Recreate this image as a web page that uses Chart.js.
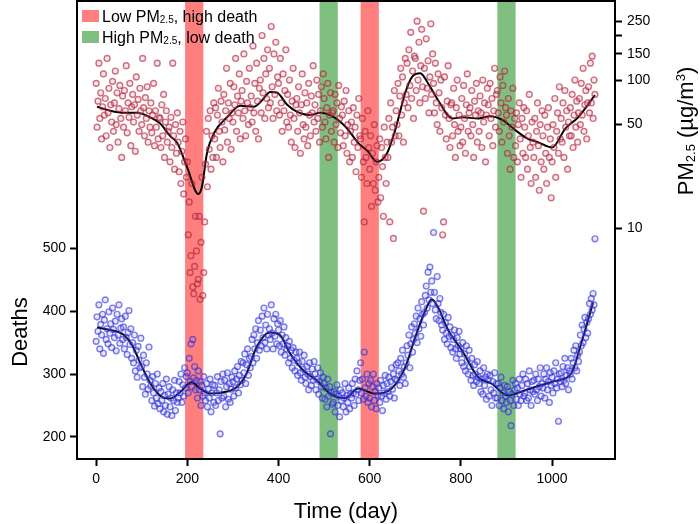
<!DOCTYPE html>
<html>
<head>
<meta charset="utf-8">
<script src="https://cdn.jsdelivr.net/npm/chart.js@4.4.0/dist/chart.umd.min.js"></script>
<style>
  body { margin: 0; background: #fff; }
  canvas { display: block; }
</style>
</head>
<body>
<canvas id="chart" width="700" height="524"></canvas>
<script>
const dayStep = 2;

const deaths = [
  352,391,368,410,340,379,362,395,333,386, 418,355,372,348,399,365,380,342,405,371,
  358,384,337,395,362,410,349,373,388,355, 375,340,392,358,331,366,401,347,372,325,
  350,318,362,305,338,295,344,322,310,357, 312,280,330,295,268,318,300,276,343,290,
  281,258,296,270,249,285,262,300,253,278, 245,272,258,285,240,266,250,292,236,268,
  280,248,262,234,275,258,290,242,270,255, 262,288,270,300,255,283,265,310,278,296,
  302,270,325,288,348,280,355,294,312,275, 290,262,305,275,288,250,282,265,296,270,
  258,285,248,276,262,292,240,270,283,255, 282,250,270,296,258,275,205,288,262,300,
  265,290,248,280,302,260,285,255,276,295, 288,265,305,278,292,312,270,298,283,320,
  290,318,302,332,285,315,340,298,325,310, 328,355,318,362,340,372,325,350,385,338,
  370,345,392,358,405,350,378,340,395,362, 372,355,410,365,340,388,360,395,348,380,
  370,345,385,335,362,348,375,330,358,340, 345,318,352,325,338,310,342,322,305,335,
  325,298,318,335,302,290,320,308,330,295, 285,312,300,275,318,296,282,308,290,320,
  300,275,292,310,268,288,302,280,262,295, 285,260,278,248,292,265,280,205,270,252,
  255,272,240,268,283,250,265,232,275,258, 270,248,262,285,240,266,255,278,245,268,
  262,285,270,250,292,268,305,275,258,290, 318,270,292,260,335,278,265,300,255,285,
  262,290,248,280,300,258,272,245,285,266, 278,255,290,265,242,282,270,298,260,285,
  272,295,265,288,310,276,300,262,292,315, 290,318,305,282,325,300,338,295,312,285,
  318,345,330,362,310,348,375,335,355,380, 365,392,350,405,372,388,360,415,395,378,
  398,425,440,405,462,418,470,430,448,412, 525,430,402,388,455,412,385,420,398,378,
  370,395,355,382,365,348,390,360,375,342, 362,335,355,370,340,325,358,345,368,332,
  340,318,350,312,332,305,345,322,300,338, 312,290,325,298,282,315,300,288,320,295,
  285,305,272,292,268,310,282,295,260,300, 290,265,298,275,250,288,270,302,262,285,
  262,285,250,278,295,258,270,245,282,265, 255,280,240,272,258,218,268,290,250,275,
  285,260,278,250,292,268,258,282,300,265, 270,292,258,285,262,305,275,250,288,272,
  290,268,300,275,258,292,280,310,265,285, 278,300,262,292,310,275,288,255,302,282,
  295,270,305,285,318,278,292,225,300,288, 302,280,312,290,325,285,298,310,275,305,
  300,325,292,318,338,310,345,305,330,320, 335,362,345,378,350,372,390,358,382,365,
  388,412,395,420,402,428,410,515
];

const pm25 = [
  95,48,72,130,55,82,40,66,110,58, 75,42,140,60,88,35,68,52,98,45,
  70,115,50,82,38,64,92,55,30,78, 48,85,62,125,44,70,56,95,36,66,
  80,52,68,33,105,58,74,45,88,62, 50,140,65,42,76,55,90,38,62,48,
  70,44,58,95,36,62,48,130,40,56, 55,35,68,42,80,30,52,62,38,45,
  48,28,56,35,130,42,25,50,32,60, 38,24,45,20,33,52,17,28,40,22,
  28,9,15,5,6.5,20,4,3.6,5.5,12, 7,4.2,4.5,12,3.3,8,22,3.5,5,11,
  27,45,19,55,34,62,25,42,30,70, 40,65,30,58,88,45,35,72,52,28,
  80,46,62,120,38,70,55,95,34,60, 52,90,68,140,45,78,60,110,40,72,
  85,55,150,62,42,98,70,50,120,65, 78,52,170,60,95,45,130,72,40,88,
  100,60,200,82,140,55,110,75,160,65, 120,70,230,90,55,150,80,180,62,105,
  95,58,140,70,45,110,62,85,160,52, 80,48,100,58,38,72,120,55,35,68,
  75,45,90,60,32,68,110,50,40,82, 48,70,36,95,58,42,78,60,125,52,
  68,45,100,55,80,38,62,90,48,110, 75,52,40,65,95,30,58,82,45,60,
  62,38,80,50,70,35,92,55,44,66, 58,36,72,42,85,32,50,62,28,45,
  52,30,65,38,48,24,58,35,75,42, 40,22,55,28,11,45,30,20,62,35,
  25,42,14,32,20,50,18,28,36,15, 22,40,16,35,26,12,48,30,20,38,
  30,55,11,70,38,48,8.5,85,42,62, 50,95,42,78,120,58,105,38,70,140,
  80,130,65,160,92,210,75,115,55,145, 140,85,250,100,180,70,125,220,90,13,
  120,75,190,88,135,60,105,240,80,150, 95,60,130,70,50,110,82,45,100,65,
  9,11,105,58,40,72,125,55,35,68, 70,42,88,50,30,65,100,45,58,36,
  48,75,38,92,55,32,68,110,45,60, 65,42,85,50,30,72,58,95,38,62,
  45,78,60,35,100,52,70,28,58,88, 68,42,95,55,75,36,62,120,48,80,
  85,60,45,105,70,38,92,52,115,65, 58,32,75,42,25,62,48,88,30,55,
  36,60,28,50,70,40,22,55,32,65, 48,30,62,25,42,80,35,20,52,38,
  30,55,22,45,70,36,18,50,28,62, 42,25,58,32,20,48,65,30,40,16,
  28,50,35,75,22,45,60,32,90,40, 55,38,70,30,85,48,62,25,52,42,
  65,42,80,35,58,100,48,72,38,60, 75,50,95,58,120,45,68,85,40,70,
  90,60,130,70,145,55,100,80
];

// smoothed trend lines
const pmTrendDays = [2,31,61,90,118,140,162,178,200,224,232,243,259,287,316,346,364,382,397,419,441,469,491,522,548,575,596,616,638,656,678,693,711,728,750,781,803,838,864,890,919,947,969,1000,1029,1057,1094];
const pmTrend = [66,62,60,60,56,51,42,37.5,25.5,17,19,32,44,56,67,66,73,83,82,68,61,58,60,56,48,37.5,33,28,32,46,82,105,111,95,73,55,56,55,57,54,46,40,38,35,47,56,79];
const deathTrendDays = [2,31,61,79,97,119,140,162,184,209,228,250,279,308,330,352,381,403,425,454,484,513,546,575,612,648,678,700,722,736,750,772,802,838,867,903,940,969,1006,1042,1064,1090];
const deathTrend = [374,370,362,346,317,285,266,261,271,287,277,269,271,279,301,343,366,362,333,306,290,269,262,277,269,277,311,359,401,419,406,370,338,295,285,266,274,281,289,301,349,414];

// highlighted periods (days)
const lowPmHighDeath = [[195, 235], [580, 620]];
const highPmLowDeath = [[490, 530], [880, 920]];

const xTicks = [0, 200, 400, 600, 800, 1000];
const deathTicks = [200, 300, 400, 500];
const pmTicks = [10, 50, 100, 150, 200, 250];

const redBand = 'rgba(255, 0, 0, 0.5)';
const greenBand = 'rgba(0, 128, 0, 0.5)';
const FONT = '"Liberation Sans", Arial, sans-serif';

const pmPoints = pm25.map((v, i) => ({ x: i * dayStep, y: v }));
const deathPoints = deaths.map((v, i) => ({ x: i * dayStep, y: v }));
const pmLine = pmTrendDays.map((d, i) => ({ x: d, y: pmTrend[i] }));
const deathLine = deathTrendDays.map((d, i) => ({ x: d, y: deathTrend[i] }));

// draw text pieces (normal / sub / sup) one after another
function drawParts(ctx, parts, x, y, size, center) {
  let total = 0;
  parts.forEach(p => {
    ctx.font = (p.small ? Math.round(size * 0.6) : size) + 'px ' + FONT;
    p.w = ctx.measureText(p.t).width;
    total += p.w;
  });
  let cx = center ? x - total / 2 : x;
  parts.forEach(p => {
    ctx.font = (p.small ? Math.round(size * 0.6) : size) + 'px ' + FONT;
    ctx.fillText(p.t, cx, y + (p.dy || 0));
    cx += p.w;
  });
}

const decor = {
  id: 'decor',
  beforeDatasetsDraw(chart) {
    const ctx = chart.ctx, xs = chart.scales.x, a = chart.chartArea;
    ctx.save();
    lowPmHighDeath.forEach(b => {
      ctx.fillStyle = redBand;
      const x1 = xs.getPixelForValue(b[0]), x2 = xs.getPixelForValue(b[1]);
      ctx.fillRect(x1, a.top, x2 - x1, a.bottom - a.top);
    });
    highPmLowDeath.forEach(b => {
      ctx.fillStyle = greenBand;
      const x1 = xs.getPixelForValue(b[0]), x2 = xs.getPixelForValue(b[1]);
      ctx.fillRect(x1, a.top, x2 - x1, a.bottom - a.top);
    });
    ctx.restore();
  },
  afterDraw(chart) {
    const ctx = chart.ctx, a = chart.chartArea;
    ctx.save();
    // frame
    ctx.strokeStyle = '#000';
    ctx.lineWidth = 2;
    ctx.strokeRect(a.left, a.top, a.right - a.left, a.bottom - a.top);

    // legend
    ctx.fillStyle = '#000';
    ctx.textBaseline = 'alphabetic';
    const lx = a.left + 5;
    [[redBand, 'Low PM', ', high death', 10], [greenBand, 'High PM', ', low death', 31]].forEach(r => {
      ctx.fillStyle = r[0];
      ctx.fillRect(lx, r[3], 17, 12);
      ctx.fillStyle = '#000';
      drawParts(ctx, [{ t: r[1] }, { t: '2.5', small: true, dy: 1 }, { t: r[2] }], lx + 20, r[3] + 12, 16, false);
    });

    // axis titles
    drawParts(ctx, [{ t: 'Time (day)' }], (a.left + a.right) / 2, 518, 22, true);

    ctx.save();
    ctx.translate(27, 332);
    ctx.rotate(-Math.PI / 2);
    drawParts(ctx, [{ t: 'Deaths' }], 0, 0, 22, true);
    ctx.restore();

    ctx.save();
    ctx.translate(693, 131);
    ctx.rotate(-Math.PI / 2);
    drawParts(ctx, [
      { t: 'PM' }, { t: '2.5', small: true, dy: 2 }, { t: ' (\u00b5g/m' },
      { t: '3', small: true, dy: -8 }, { t: ')' }
    ], 0, 0, 22, true);
    ctx.restore();
    ctx.restore();
  }
};

function setTicks(list) {
  return scale => { scale.ticks = list.map(v => ({ value: v })); };
}

// fixed axis sizes so the plot box lands where it is in the figure
function fixWidth(w) {
  return s => { s.width = w; s.paddingTop = 0; s.paddingBottom = 0; };
}
function fixHeight(h) {
  return s => { s.height = h; s.paddingLeft = 0; s.paddingRight = 0; };
}

const tickGrid = {
  display: true, drawOnChartArea: false, drawTicks: true,
  tickLength: 7, tickWidth: 2, tickColor: '#000'
};
const tickFont = { family: FONT, size: 14 };

new Chart(document.getElementById('chart'), {
  type: 'scatter',
  data: {
    datasets: [
      {
        label: 'PM2.5',
        data: pmPoints,
        yAxisID: 'y2',
        pointRadius: 2.9,
        borderWidth: 1.4,
        borderColor: 'rgba(175, 30, 55, 0.62)',
        backgroundColor: 'rgba(220, 120, 135, 0.18)'
      },
      {
        label: 'Deaths',
        data: deathPoints,
        yAxisID: 'y',
        pointRadius: 2.9,
        borderWidth: 1.4,
        borderColor: 'rgba(45, 45, 215, 0.6)',
        backgroundColor: 'rgba(120, 120, 235, 0.18)'
      },
      {
        label: 'PM2.5 trend',
        data: pmLine,
        yAxisID: 'y2',
        showLine: true,
        pointRadius: 0,
        borderColor: '#000',
        borderWidth: 2,
        cubicInterpolationMode: 'monotone'
      },
      {
        label: 'Deaths trend',
        data: deathLine,
        yAxisID: 'y',
        showLine: true,
        pointRadius: 0,
        borderColor: '#000',
        borderWidth: 2,
        cubicInterpolationMode: 'monotone'
      }
    ]
  },
  options: {
    responsive: false,
    animation: false,
    devicePixelRatio: 1,
    layout: { autoPadding: false, padding: { top: 1 } },
    plugins: { legend: { display: false }, tooltip: { enabled: false } },
    scales: {
      x: {
        type: 'linear',
        min: -42,
        max: 1138,
        afterBuildTicks: setTicks(xTicks),
        afterFit: fixHeight(65),
        grid: tickGrid,
        border: { display: false },
        ticks: { color: '#000', font: tickFont, padding: 5, maxRotation: 0, callback: v => String(v) }
      },
      y: {
        type: 'linear',
        position: 'left',
        min: 165,
        max: 893,
        afterBuildTicks: setTicks(deathTicks),
        afterFit: fixWidth(77),
        grid: tickGrid,
        border: { display: false },
        ticks: { color: '#000', font: tickFont, padding: 4, callback: v => String(v) }
      },
      y2: {
        type: 'logarithmic',
        position: 'right',
        min: 0.275,
        max: 342,
        afterBuildTicks: setTicks(pmTicks),
        afterFit: fixWidth(85),
        grid: tickGrid,
        border: { display: false },
        ticks: {
          color: '#000', font: tickFont, padding: 5,
          callback: v => (v === 200 ? '' : String(v))
        }
      }
    }
  },
  plugins: [decor]
});
</script>
</body>
</html>
